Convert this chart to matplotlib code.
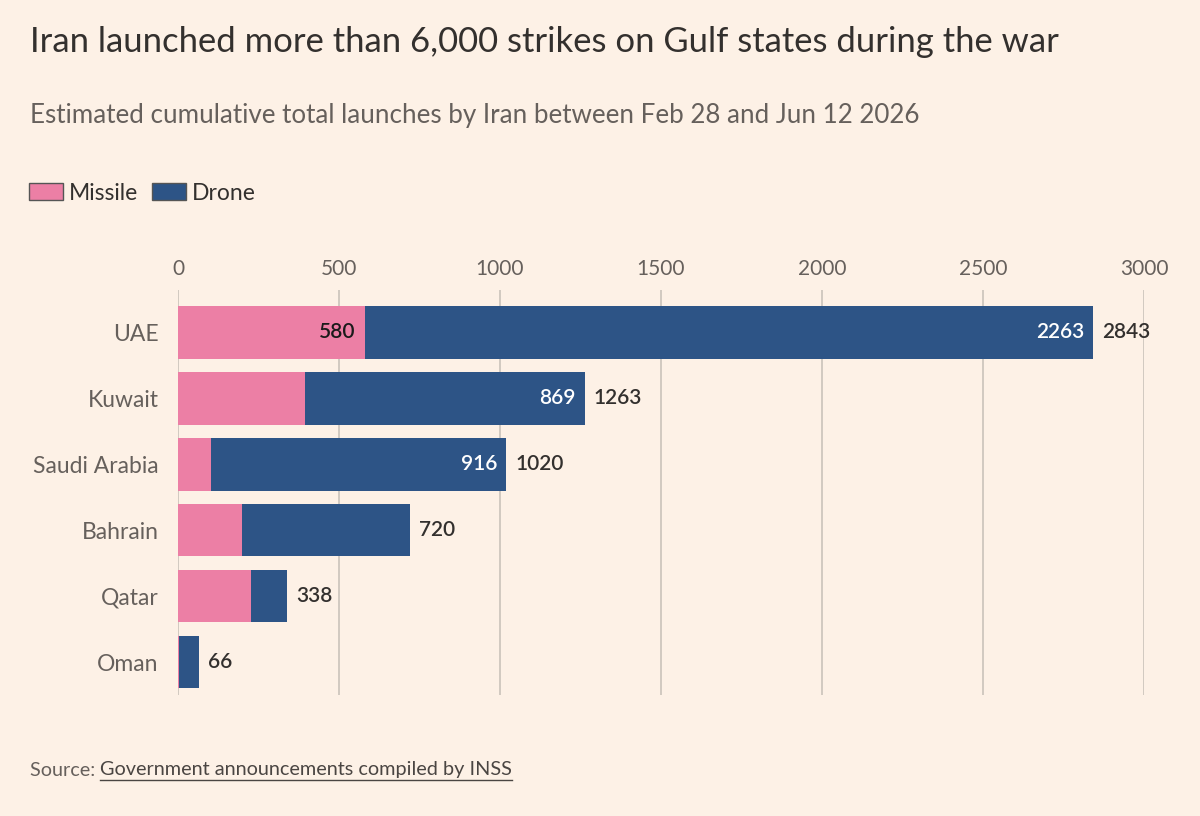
import matplotlib
matplotlib.use("Agg")
import matplotlib.pyplot as plt
from matplotlib.patches import Patch
from matplotlib.lines import Line2D

# -----------------------------
# Data
# -----------------------------
countries = ["UAE", "Kuwait", "Saudi Arabia", "Bahrain", "Qatar", "Oman"]
missile = [580, 394, 104, 199, 227, 3]
drone = [2263, 869, 916, 521, 111, 63]
totals = [2843, 1263, 1020, 720, 338, 66]
xticks = [0, 500, 1000, 1500, 2000, 2500, 3000]

# -----------------------------
# Style
# -----------------------------
bg = "#FDF1E6"
pink = "#EC7FA5"
blue = "#2D5486"
dark = "#33302E"
grey = "#66605C"
gridc = "#CEC6BE"
plt.rcParams["font.family"] = ["Lato", "DejaVu Sans"]

fig = plt.figure(figsize=(12, 8.16), dpi=100, facecolor=bg)
ax = fig.add_axes([178 / 1200, 1 - 695 / 816, 966 / 1200, (695 - 290) / 816])
ax.set_facecolor(bg)

y = list(range(len(countries)))
ax.barh(y, missile, height=0.8, color=pink, zorder=3)
ax.barh(y, drone, left=missile, height=0.8, color=blue, zorder=3)

pad = 28
for i in y:
    if missile[i] > 550:
        ax.text(missile[i] - pad, i, str(missile[i]), ha="right", va="center",
                fontsize=15, color="#1A1A1A", fontweight="semibold", zorder=4)
    if drone[i] > 550:
        ax.text(totals[i] - pad, i, str(drone[i]), ha="right", va="center",
                fontsize=15, color="white", fontweight="semibold", zorder=4)
    ax.text(totals[i] + pad, i, str(totals[i]), ha="left", va="center",
            fontsize=15, color=dark, fontweight="semibold", zorder=4)

ax.set_xlim(0, 3000)
ax.set_ylim(5.5, -0.64)
ax.set_xticks(xticks)
ax.set_xticklabels([str(v) for v in xticks])
ax.xaxis.tick_top()
ax.tick_params(axis="x", length=0, pad=8, labelsize=15, labelcolor=grey)
ax.set_yticks(y)
ax.set_yticklabels(countries)
ax.tick_params(axis="y", length=0, pad=14, labelsize=16.5, labelcolor=grey)
ax.grid(axis="x", color=gridc, linewidth=1.3, zorder=0)
for s in ax.spines.values():
    s.set_visible(False)

# -----------------------------
# Titles, legend, source
# -----------------------------
fig.text(30 / 1200, 1 - 42 / 816, "Iran launched more than 6,000 strikes on Gulf states during the war",
         fontsize=24.9, color=dark, va="center", ha="left")
fig.text(30 / 1200, 1 - 115 / 816, "Estimated cumulative total launches by Iran between Feb 28 and Jun 12 2026",
         fontsize=18.7, color=grey, va="center", ha="left")

handles = [Patch(facecolor=pink, edgecolor="#555", linewidth=1, label="Missile"),
           Patch(facecolor=blue, edgecolor="#555", linewidth=1, label="Drone")]
fig.legend(handles=handles, loc="center left", bbox_to_anchor=(22 / 1200, 1 - 193 / 816),
           ncol=2, frameon=False, fontsize=16.5, handlelength=1.5, handleheight=0.75,
           handletextpad=0.25, columnspacing=0.6, labelcolor=dark, borderaxespad=0,
           borderpad=0.3)

fig.text(30 / 1200, 1 - 770 / 816, "Source: ", fontsize=14.3, color=grey, va="center", ha="left")
fig.canvas.draw()
r = fig.canvas.get_renderer()
src = fig.texts[-1]
bb = src.get_window_extent(r)
link = fig.text(bb.x1 / 1200, 1 - 770 / 816, "Government announcements compiled by INSS",
                fontsize=14.3, color="#4A4542", va="center", ha="left")
lb = link.get_window_extent(r)
fig.add_artist(Line2D([lb.x0 / 1200, lb.x1 / 1200], [(lb.y0 - 1) / 816, (lb.y0 - 1) / 816],
                      transform=fig.transFigure, color="#4A4542", linewidth=1))

fig.savefig("out.png", dpi=100, facecolor=bg)
